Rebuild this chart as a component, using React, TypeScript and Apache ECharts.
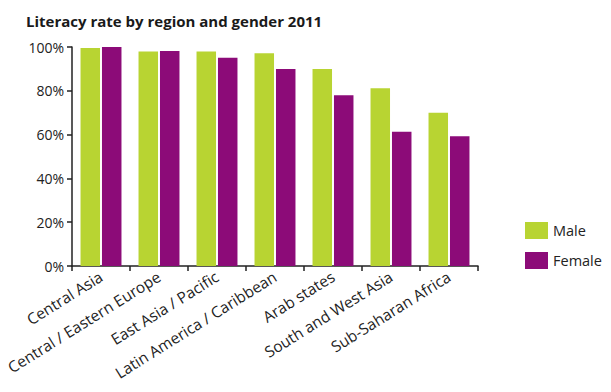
import React, { useEffect, useRef } from "react";
import * as echarts from "echarts";

const categories = [
  "Central Asia",
  "Central / Eastern Europe",
  "East Asia / Pacific",
  "Latin America / Caribbean",
  "Arab states",
  "South and West Asia",
  "Sub-Saharan Africa",
];
const maleValues = [99.6, 98.0, 98.0, 97.1, 90.0, 81.2, 70.0];
const femaleValues = [100.0, 98.2, 95.1, 90.0, 78.0, 61.3, 59.3];
const yTicks = [0, 20, 40, 60, 80, 100];

const FONT = "'Open Sans', 'DejaVu Sans', sans-serif";

export default function App() {
  const ref = useRef<HTMLDivElement>(null);
  useEffect(() => {
    if (!ref.current) return;
    const chart = echarts.init(ref.current, undefined, { renderer: "svg" });
    chart.setOption({
      animation: false,
      backgroundColor: "#ffffff",
      title: {
        text: "Literacy rate by region and gender 2011",
        left: 21,
        top: 8,
        textStyle: { fontFamily: FONT, fontSize: 15, fontWeight: "bold", color: "#1a1a1a" },
      },
      legend: {
        orient: "vertical",
        left: 520,
        top: 217,
        itemWidth: 23,
        itemHeight: 17,
        itemGap: 13,
        icon: "rect",
        textStyle: { fontFamily: FONT, fontSize: 14.5, color: "#222" },
        data: ["Male", "Female"],
      },
      grid: { left: 72, top: 47, width: 406, height: 219, containLabel: false },
      xAxis: {
        type: "category",
        data: categories,
        axisLine: { lineStyle: { color: "#222", width: 1.5 } },
        axisTick: { show: true, length: 5, lineStyle: { color: "#222", width: 1.5 } },
        axisLabel: {
          rotate: 32,
          interval: 0,
          margin: 9,
          fontFamily: FONT,
          fontSize: 15.5,
          color: "#222",
        },
      },
      yAxis: {
        type: "value",
        min: 0,
        max: 100,
        interval: 20,
        axisLine: { show: true, lineStyle: { color: "#222", width: 1.5 } },
        axisTick: { show: true, length: 5, lineStyle: { color: "#222", width: 1.5 } },
        splitLine: { show: false },
        axisLabel: {
          formatter: (v: number) => (yTicks.includes(v) ? v + "%" : ""),
          fontFamily: FONT,
          fontSize: 14,
          color: "#222",
          margin: 8,
        },
      },
      series: [
        {
          name: "Male",
          type: "bar",
          data: maleValues,
          itemStyle: { color: "#b8d432" },
          barWidth: 19.5,
          barGap: "10%",
        },
        {
          name: "Female",
          type: "bar",
          data: femaleValues,
          itemStyle: { color: "#8c0b78" },
          barWidth: 19.5,
          barGap: "10%",
        },
      ],
    });
    return () => chart.dispose();
  }, []);
  return (
    <div
      ref={ref}
      style={{ position: "absolute", left: 0, top: 0, width: 611, height: 392 }}
    />
  );
}
